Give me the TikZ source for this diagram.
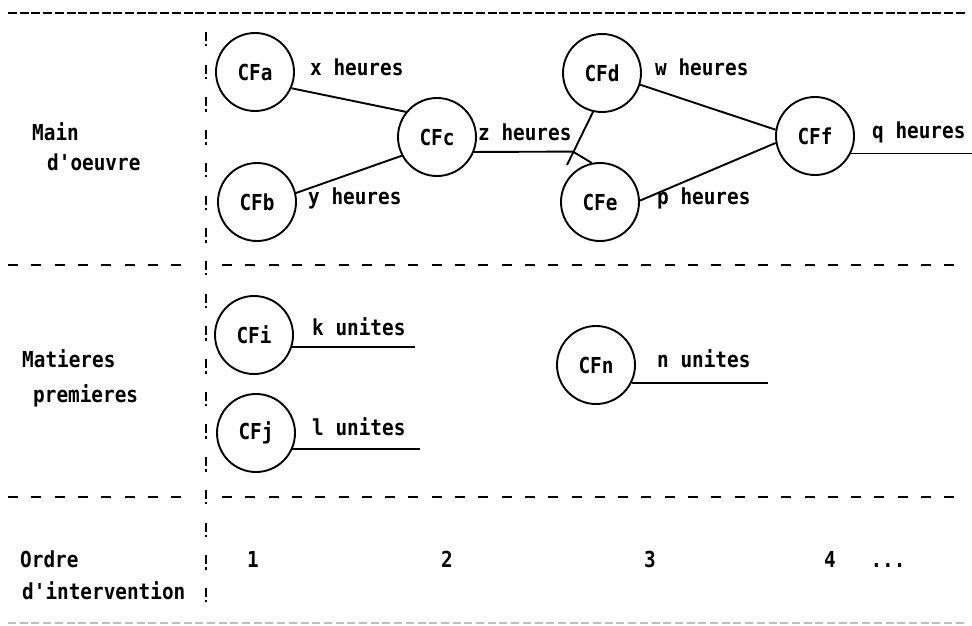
\documentclass[tikz,border=0pt]{standalone}
\usepackage{fontspec}
\newfontfamily\tw[FakeStretch=0.88]{DejaVu Sans Mono Bold}
\begin{document}
\begin{tikzpicture}[x=1pt,y=-1pt,
  cf/.style={circle, draw, line width=1.9pt, minimum size=78pt, inner sep=0pt, font=\tw\fontsize{22}{24}\selectfont},
  lbl/.style={anchor=mid west, inner sep=0pt, font=\tw\fontsize{22}{24}\selectfont},
  num/.style={anchor=mid, inner sep=0pt, font=\tw\fontsize{22}{24}\selectfont},
  con/.style={line width=1.9pt},
  sep/.style={line width=2.4pt, dash pattern=on 10pt off 13.3pt},
  topline/.style={line width=1.9pt, dash pattern=on 9pt off 2.7pt},
  botline/.style={line width=1.5pt, black!25, dash pattern=on 8pt off 3.7pt},
  excl/.style={line width=2.2pt, dash pattern=on 9pt off 3pt on 2.5pt off 18.2pt}]
\useasboundingbox[fill=white] (0,0) rectangle (972,626);

% frame lines
\draw[topline] (8,13) -- (966,13);
\draw[sep] (8,265) -- (188,265);
\draw[sep] (222,265) -- (956,265);
\draw[sep] (8,497) -- (188,497);
\draw[sep] (222,497) -- (956,497);
\draw[botline] (8,623) -- (966,623);
\draw[excl] (206,32) -- (206,606);

% left labels
\node[lbl] (main) at (32,138) {Main};
\node[lbl] (oeuvre) at (47,168) {d'oeuvre};
\node[lbl] (mat) at (22,365) {Matieres};
\node[lbl] (prem) at (33,400) {premieres};
\node[lbl] (ordre) at (20,565) {Ordre};
\node[lbl] (inter) at (22,597) {d'intervention};

% order numbers
\node[num] (n1) at (253,565) {1};
\node[num] (n2) at (447,565) {2};
\node[num] (n3) at (650,565) {3};
\node[num] (n4) at (830,565) {4};
\node[num] (ndots) at (888,565) {...};

% centres de frais
\node[cf] (CFa) at (255,72) {CFa};
\node[cf] (CFb) at (257,202) {CFb};
\node[cf] (CFc) at (437,137) {CFc};
\node[cf] (CFd) at (602,73) {CFd};
\node[cf] (CFe) at (600,202) {CFe};
\node[cf] (CFf) at (815,136) {CFf};
\node[cf] (CFi) at (254,335) {CFi};
\node[cf] (CFj) at (256,433) {CFj};
\node[cf] (CFn) at (596,365) {CFn};

% quantity labels
\node[lbl] (xh) at (310,73) {x heures};
\node[lbl] (yh) at (308,202) {y heures};
\node[lbl] (zh) at (478,138) {z heures};
\node[lbl] (wh) at (655,73) {w heures};
\node[lbl] (ph) at (657,202) {p heures};
\node[lbl] (qh) at (872,136) {q heures};
\node[lbl] (ku) at (312,333) {k unites};
\node[lbl] (lu) at (312,433) {l unites};
\node[lbl] (nu) at (657,365) {n unites};

% connectors
\coordinate (J) at (573,151.6);
\coordinate (T) at (567,165);
\coordinate (qE) at (972,0);
\coordinate (kE) at (415,0);
\coordinate (lE) at (420,0);
\coordinate (nE) at (768,0);

\draw[con] (CFa.-24) -- (CFc.141);
\draw[con] (CFb.13) -- (CFc.208);
\draw[con] (CFc.-22) -- (J) -- (CFe.102);
\draw[con] (CFd.257) -- (T);
\draw[con] (CFd.-17) -- (CFf.171);
\draw[con] (CFe.2) -- (CFf.190);
\draw[con] (CFf.-26) -- (CFf.-26 -| qE);
\draw[con] (CFi.-18) -- (CFi.-18 -| kE);
\draw[con] (CFj.-24) -- (CFj.-24 -| lE);
\draw[con] (CFn.-27) -- (CFn.-27 -| nE);
\end{tikzpicture}
\end{document}
